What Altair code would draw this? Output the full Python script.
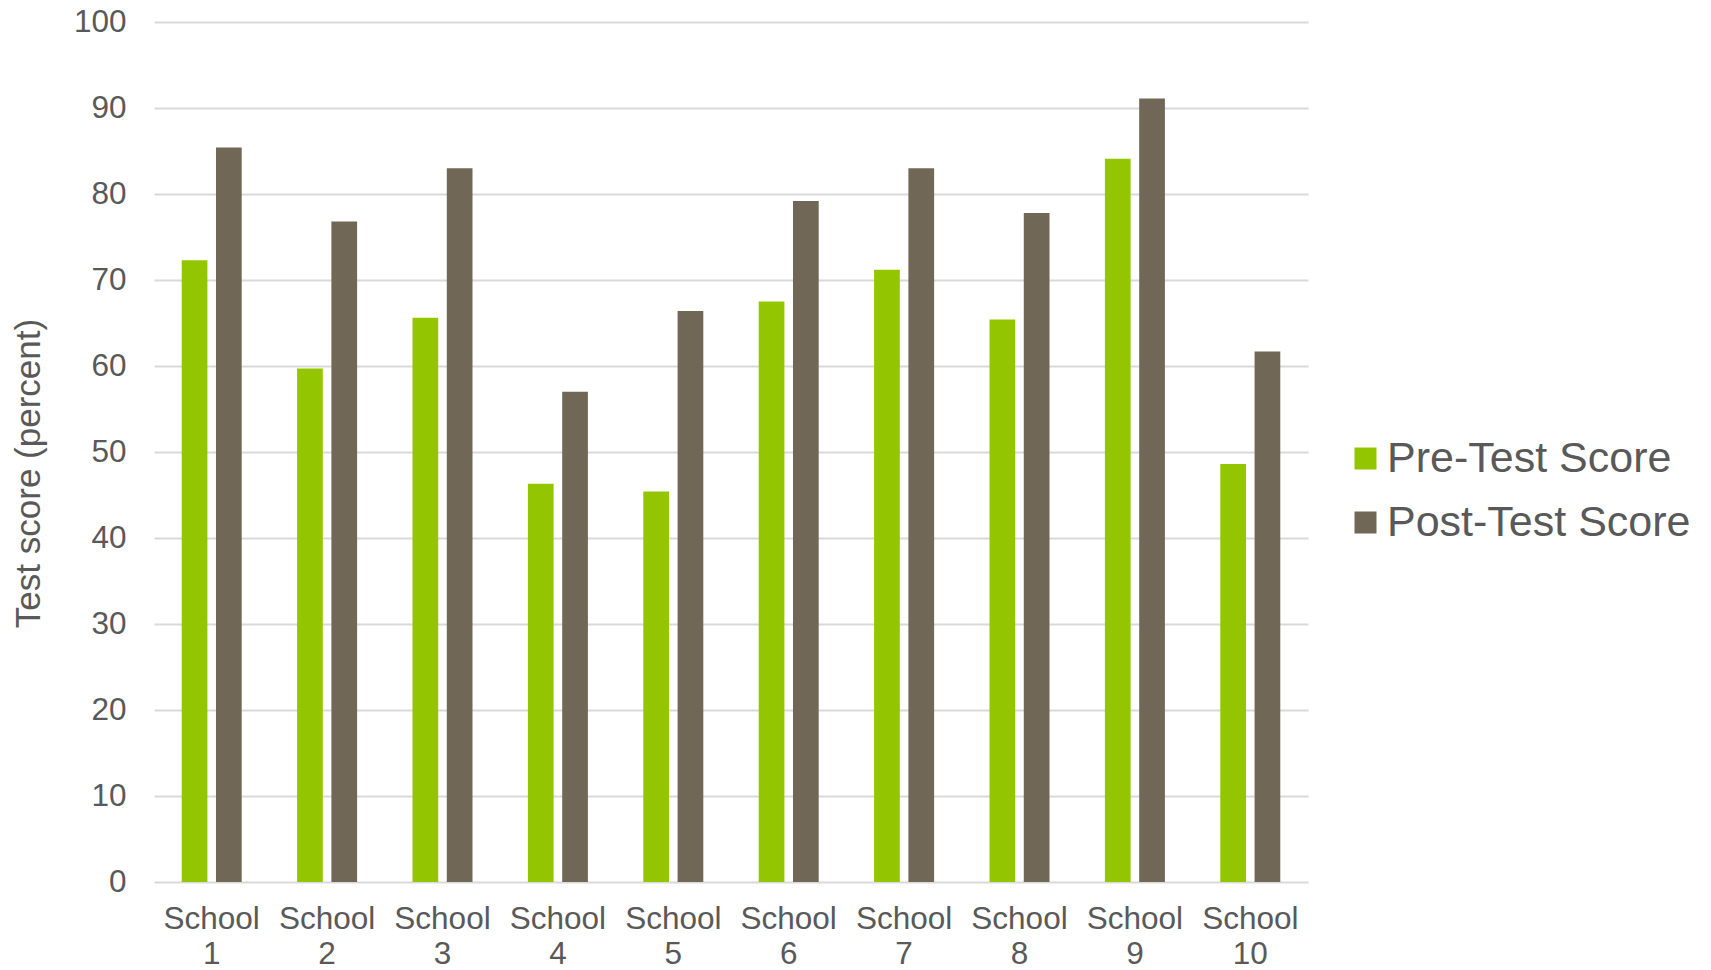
import altair as alt
import pandas as pd

# School test results, pre vs post
schools = [f"School {i}" for i in range(1, 11)]
pre_scores = [72.3, 59.7, 65.6, 46.3, 45.4, 67.5, 71.2, 65.4, 84.1, 48.6]
post_scores = [85.4, 76.8, 83.0, 57.0, 66.4, 79.2, 83.0, 77.8, 91.1, 61.7]
series = ["Pre-Test Score", "Post-Test Score"]
colors = ["#94c600", "#716756"]

rows = []
for s, a, b in zip(schools, pre_scores, post_scores):
    rows.append({"school": s, "series": series[0], "score": a})
    rows.append({"school": s, "series": series[1], "score": b})
df = pd.DataFrame(rows)

FONT = "Liberation Sans"
TEXT = "#595959"
GRID = "#d9d9d9"

chart = (
    alt.Chart(df)
    .mark_bar()
    .encode(
        x=alt.X(
            "school:N",
            sort=schools,
            scale=alt.Scale(paddingInner=0.48, paddingOuter=0.24),
            axis=alt.Axis(
                title=None,
                labelAngle=0,
                labelExpr="split(datum.label, ' ')",
                labelFontSize=31.5,
                labelLineHeight=35,
                labelColor=TEXT,
                labelFont=FONT,
                labelPadding=21,
                ticks=False,
                domain=False,
                grid=False,
            ),
        ),
        xOffset=alt.XOffset(
            "series:N", sort=series, scale=alt.Scale(paddingInner=0.25, paddingOuter=0)
        ),
        y=alt.Y(
            "score:Q",
            scale=alt.Scale(domain=[0, 100], nice=False),
            axis=alt.Axis(
                title="Test score (percent)",
                values=list(range(0, 101, 10)),
                labelFontSize=31.5,
                labelColor=TEXT,
                labelFont=FONT,
                labelPadding=28,
                ticks=False,
                domain=False,
                grid=True,
                gridColor=GRID,
                gridWidth=2,
                titleFontSize=35,
                titleFont=FONT,
                titleFontWeight="normal",
                titleColor=TEXT,
                titleX=-126,
                titleY=451,
                titleBaseline="middle",
                titleAlign="center",
            ),
        ),
        color=alt.Color(
            "series:N",
            sort=series,
            scale=alt.Scale(domain=series, range=colors),
            legend=alt.Legend(
                title=None,
                orient="none",
                legendX=1190,
                legendY=415,
                symbolType="square",
                symbolSize=484,
                symbolStrokeWidth=0,
                labelFontSize=43,
                labelColor=TEXT,
                labelFont=FONT,
                labelOffset=0,
                rowPadding=20,
                labelLimit=500,
            ),
        ),
    )
    .properties(
        width=1154,
        height=860,
        autosize=alt.AutoSizeParams(type="none"),
        padding={"left": 154, "top": 22, "right": 403, "bottom": 88},
    )
    .configure(background="white")
    .configure_view(strokeWidth=0, stroke="transparent")
)

chart.save("out.html", embed_options={"renderer": "svg", "actions": False})
